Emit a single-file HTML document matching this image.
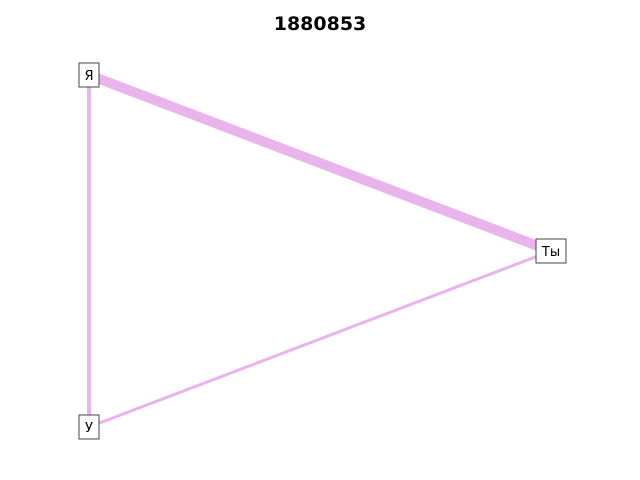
<!DOCTYPE html>
<html><head><meta charset="utf-8"><style>
body{margin:0;background:#fff}
svg{display:block}
text{font-family:"DejaVu Sans","Liberation Sans",sans-serif}
</style></head><body>
<svg id="chart" width="640" height="480">
<text x="320" y="30" text-anchor="middle" font-size="19" font-weight="bold">1880853</text>
<g id="edges"></g><g id="nodes"></g>
</svg>
<script>
const nodeLabels = ["Я", "Ты", "У"];
const nodeX = [0, 1, 0];
const nodeY = [1, 0.5, 0];
const edgeFrom = [0, 0, 1];
const edgeTo = [1, 2, 2];
const edgeWeights = [10, 4, 3];

const sx = v => 89 + v * (551 - 89);
const sy = v => 427 - v * (427 - 75);
const NS = "http://www.w3.org/2000/svg";
const eg = document.getElementById("edges"), ng = document.getElementById("nodes");
edgeFrom.forEach((f, i) => {
  const t = edgeTo[i];
  const l = document.createElementNS(NS, "line");
  l.setAttribute("x1", sx(nodeX[f])); l.setAttribute("y1", sy(nodeY[f]));
  l.setAttribute("x2", sx(nodeX[t])); l.setAttribute("y2", sy(nodeY[t]));
  l.setAttribute("stroke", "#e9b3ec"); l.setAttribute("stroke-width", edgeWeights[i]);
  
  
  eg.appendChild(l);
});
nodeLabels.forEach((lab, i) => {
  const g = document.createElementNS(NS, "g");
  
  
  const w = lab.length > 1 ? 30 : 20;
  const x = sx(nodeX[i]), y = sy(nodeY[i]);
  const r = document.createElementNS(NS, "rect");
  r.setAttribute("x", x - w / 2); r.setAttribute("y", y - 12);
  r.setAttribute("width", w); r.setAttribute("height", 24);
  r.setAttribute("fill", "#fff"); r.setAttribute("stroke", "#444"); r.setAttribute("stroke-width", 1);
  const tx = document.createElementNS(NS, "text");
  tx.setAttribute("x", x); tx.setAttribute("y", y + 5);
  tx.setAttribute("text-anchor", "middle"); tx.setAttribute("font-size", "13");
  tx.textContent = lab;
  g.appendChild(r); g.appendChild(tx); ng.appendChild(g);
});
</script>
</body></html>
